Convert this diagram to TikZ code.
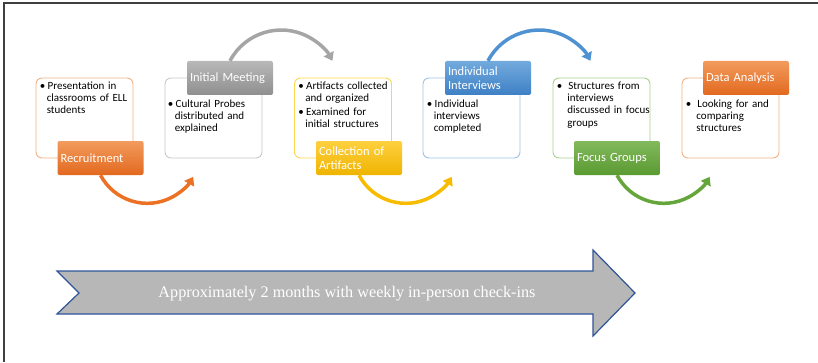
\documentclass[tikz,border=0pt]{standalone}
\usepackage{fontspec}
\setmainfont{Carlito}
\newfontfamily\timesfont{Liberation Serif}
\usetikzlibrary{arrows.meta}

\definecolor{orgline}{HTML}{F4B183}
\definecolor{orgtop}{HTML}{F29B5E}
\definecolor{orgbot}{HTML}{E2691E}
\definecolor{orgarc}{HTML}{EC7124}
\definecolor{gryline}{HTML}{C9C9C9}
\definecolor{grytop}{HTML}{B8B8B8}
\definecolor{grybot}{HTML}{8F8F8F}
\definecolor{gryarc}{HTML}{A5A5A5}
\definecolor{ylwline}{HTML}{FFD54F}
\definecolor{ylwtop}{HTML}{FFD03F}
\definecolor{ylwbot}{HTML}{EFB400}
\definecolor{ylwarc}{HTML}{F7BC00}
\definecolor{bluline}{HTML}{9DC3E6}
\definecolor{blutop}{HTML}{72AADD}
\definecolor{blubot}{HTML}{3E80C5}
\definecolor{bluarc}{HTML}{4F92D2}
\definecolor{grnline}{HTML}{A9D18E}
\definecolor{grntop}{HTML}{82B95C}
\definecolor{grnbot}{HTML}{5A9A32}
\definecolor{grnarc}{HTML}{64A63A}
\definecolor{spanfill}{HTML}{B7B7B7}
\definecolor{spanline}{HTML}{2F5597}

\newcommand{\bul}{\textbullet\hspace{2.5pt}}
\newcommand{\bulind}{\hspace*{7pt}}

\tikzset{
  box/.style={rounded corners=6pt, minimum width=97pt, minimum height=80pt,
    line width=0.9pt, fill=white, inner sep=0pt},
  tag/.style={rounded corners=2pt, minimum width=86pt, minimum height=34pt,
    text width=80pt, inner xsep=3pt, inner ysep=0pt, align=left, text=white,
    font=\fontsize{12.5}{13.8}\selectfont},
  note/.style={anchor=north west, text width=93pt, align=left, inner sep=1pt,
    font=\fontsize{11}{12.3}\selectfont, text=black},
  arc/.style={line width=3.5pt, -{Triangle[width=11pt,length=8pt]}}
}

\begin{document}
\begin{tikzpicture}[x=1pt, y=1pt]
  \useasboundingbox (0,0) rectangle (818,362);
  \draw[line width=1.3pt, black!75] (4,0) -- (4,359) -- (818,359);

  % outlined boxes
  \node[box, draw=orgline] (recbox)   at (84.5,244)  {};
  \node[box, draw=gryline] (meetbox)  at (213.5,244) {};
  \node[box, draw=ylwline] (collbox)  at (343,244)   {};
  \node[box, draw=bluline] (indivbox) at (471.5,244) {};
  \node[box, draw=grnline] (focusbox) at (601.5,244) {};
  \node[box, draw=orgline] (databox)  at (730.5,244) {};

  % bullet text
  \node[note] (recnote) at ([shift={(3,-3)}]recbox.north west)
    {\bul Presentation in\\\bulind classrooms of ELL\\\bulind students};
  \node[note] (meetnote) at ([shift={(2,-21)}]meetbox.north west)
    {\bul Cultural Probes\\\bulind distributed and\\\bulind explained};
  \node[note] (collnote) at ([shift={(3,-3)}]collbox.north west)
    {\bul Artifacts collected\\\bulind and organized\\[1.5pt]
     \bul Examined for\\\bulind initial structures};
  \node[note] (indivnote) at ([shift={(3,-21)}]indivbox.north west)
    {\bul Individual\\\bulind interviews\\\bulind completed};
  \node[note] (focusnote) at ([shift={(3,-3)}]focusbox.north west)
    {\bul\ Structures from\\\bulind\ interviews\\\bulind\ discussed in focus\\\bulind\ groups};
  \node[note] (datanote) at ([shift={(3,-21)}]databox.north west)
    {\bul\ Looking for and\\\bulind\ comparing\\\bulind\ structures};

  % coloured labels
  \node[tag, top color=orgtop, bottom color=orgbot] (rec)   at (100.5,204) {Recruitment};
  \node[tag, top color=grytop, bottom color=grybot] (meet)  at (230,284)   {Initial Meeting};
  \node[tag, top color=ylwtop, bottom color=ylwbot] (coll)  at (359,204)   {Collection of\\Artifacts};
  \node[tag, top color=blutop, bottom color=blubot] (indiv) at (488,284)   {Individual\\Interviews};
  \node[tag, top color=grntop, bottom color=grnbot] (focus) at (617,204)   {Focus Groups};
  \node[tag, top color=orgtop, bottom color=orgbot] (data)  at (746,284)   {Data Analysis};

  % curved arrows between steps
  \draw[arc, orgarc] (rec.south)   arc[start angle=208, end angle=330, radius=53];
  \draw[arc, gryarc] (meet.north)  arc[start angle=152, end angle=28, radius=58];
  \draw[arc, ylwarc] (coll.south)  arc[start angle=208, end angle=330, radius=53];
  \draw[arc, bluarc] (indiv.north) arc[start angle=152, end angle=28, radius=58];
  \draw[arc, grnarc] (focus.south) arc[start angle=208, end angle=330, radius=53];

  % time span arrow
  \draw[fill=spanfill, draw=spanline, line width=1.2pt]
    (57,91) -- (593,91) -- (593,112) -- (635,69) -- (593,26) -- (593,48)
    -- (57,48) -- (79,69) -- cycle;
  \node[text=white, font=\timesfont\fontsize{16.2}{18}\selectfont] (span) at (347,68)
    {Approximately 2 months with weekly in-person check-ins};
\end{tikzpicture}
\end{document}
